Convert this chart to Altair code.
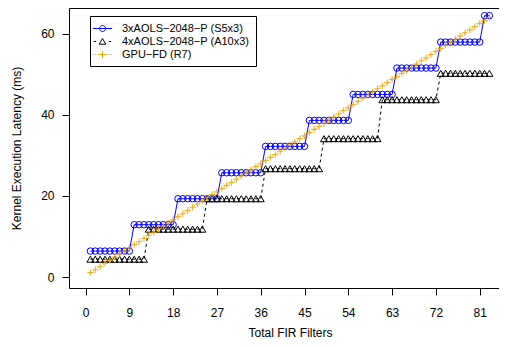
import altair as alt
import pandas as pd

# ---- data ----
filters = list(range(1, 84))

s5x3 = [
    6.4, 6.4, 6.4, 6.4, 6.4, 6.4, 6.4, 6.4, 6.4,
    12.9, 12.9, 12.9, 12.9, 12.9, 12.9, 12.9, 12.9, 12.9,
    19.3, 19.3, 19.3, 19.3, 19.3, 19.3, 19.3, 19.3, 19.3,
    25.7, 25.7, 25.7, 25.7, 25.7, 25.7, 25.7, 25.7, 25.7,
    32.2, 32.2, 32.2, 32.2, 32.2, 32.2, 32.2, 32.2, 32.2,
    38.6, 38.6, 38.6, 38.6, 38.6, 38.6, 38.6, 38.6, 38.6,
    45.0, 45.0, 45.0, 45.0, 45.0, 45.0, 45.0, 45.0, 45.0,
    51.5, 51.5, 51.5, 51.5, 51.5, 51.5, 51.5, 51.5, 51.5,
    57.9, 57.9, 57.9, 57.9, 57.9, 57.9, 57.9, 57.9, 57.9,
    64.4, 64.4,
]

a10x3 = [
    4.4, 4.4, 4.4, 4.4, 4.4, 4.4, 4.4, 4.4, 4.4, 4.4, 4.4, 4.4,
    11.8, 11.8, 11.8, 11.8, 11.8, 11.8, 11.8, 11.8, 11.8, 11.8, 11.8, 11.8,
    19.3, 19.3, 19.3, 19.3, 19.3, 19.3, 19.3, 19.3, 19.3, 19.3, 19.3, 19.3,
    26.7, 26.7, 26.7, 26.7, 26.7, 26.7, 26.7, 26.7, 26.7, 26.7, 26.7, 26.7,
    34.1, 34.1, 34.1, 34.1, 34.1, 34.1, 34.1, 34.1, 34.1, 34.1, 34.1, 34.1,
    43.7, 43.7, 43.7, 43.7, 43.7, 43.7, 43.7, 43.7, 43.7, 43.7, 43.7, 43.7,
    50.2, 50.2, 50.2, 50.2, 50.2, 50.2, 50.2, 50.2, 50.2, 50.2, 50.2,
]

gpu_fd = [
    1.1, 1.8, 2.6, 3.4, 4.1, 4.9, 5.7, 6.4, 7.2, 8.0,
    8.7, 9.5, 10.3, 11.0, 11.8, 12.6, 13.3, 14.1, 14.9, 15.6,
    16.4, 17.2, 18.0, 18.7, 19.5, 20.3, 21.0, 21.8, 22.6, 23.3,
    24.1, 24.9, 25.6, 26.4, 27.2, 27.9, 28.7, 29.5, 30.2, 31.0,
    31.8, 32.5, 33.3, 34.1, 34.8, 35.6, 36.4, 37.1, 37.9, 38.7,
    39.4, 40.2, 41.0, 41.7, 42.5, 43.3, 44.1, 44.8, 45.6, 46.4,
    47.1, 47.9, 48.7, 49.4, 50.2, 51.0, 51.7, 52.5, 53.3, 54.0,
    54.8, 55.6, 56.3, 57.1, 57.9, 58.6, 59.4, 60.2, 60.9, 61.7,
    62.5, 63.2, 64.0,
]

series_names = ["3xAOLS\u22122048\u2212P (S5x3)", "4xAOLS\u22122048\u2212P (A10x3)", "GPU\u2212FD (R7)"]
series_colors = ["#0000FF", "#000000", "#E69F00"]
x_ticks = [0, 9, 18, 27, 36, 45, 54, 63, 72, 81]
y_ticks = [0, 20, 40, 60]

FONT = "Liberation Sans"

rows = []
for name, vals in zip(series_names, [s5x3, a10x3, gpu_fd]):
    for f, v in zip(filters, vals):
        rows.append({"filters": f, "latency": v, "series": name})
df = pd.DataFrame(rows)

xscale = alt.Scale(domain=[-3.4, 84.97], nice=False, zero=False)
yscale = alt.Scale(domain=[-2.7, 66.3], nice=False, zero=False)

x_axis = alt.Axis(
    values=x_ticks, title="Total FIR Filters", grid=False,
    tickSize=7, tickColor="black", domainColor="black", labelColor="black",
    labelFontSize=12, labelFont=FONT, labelPadding=12, labelFlush=False,
    titleFont=FONT, titleFontSize=12, titleFontWeight="normal", titleColor="black",
    titleX=221, titleY=44, titleBaseline="middle",
)
y_axis = alt.Axis(
    values=y_ticks, title="Kernel Execution Latency (ms)", grid=False,
    tickSize=7, tickColor="black", domainColor="black", labelColor="black",
    labelFontSize=12, labelFont=FONT, labelPadding=8, labelFlush=False,
    titleFont=FONT, titleFontSize=12, titleFontWeight="normal", titleColor="black",
    titleX=-53, titleY=140, titleBaseline="middle", titleAngle=-90,
)
top_axis = alt.Axis(orient="top", labels=False, ticks=False, domain=True,
                    domainColor="black", grid=False, title=None)

Y = alt.Y("latency:Q", scale=yscale, axis=y_axis)


def sub(name):
    return alt.Chart(df).transform_filter(alt.datum.series == name)


blue = sub(series_names[0])
black = sub(series_names[1])
orange = sub(series_names[2])

blue_line = blue.mark_line(color="#0000FF", strokeWidth=1).encode(
    x=alt.X("filters:Q", scale=xscale, axis=x_axis), y=Y)
blue_pts = blue.mark_point(shape="circle", size=42, filled=False, color="#0000FF",
                           strokeWidth=1, opacity=1).encode(
    x=alt.X("filters:Q", scale=xscale, axis=None), y=Y)

black_line = black.mark_line(color="black", strokeWidth=1, strokeDash=[3, 3]).encode(
    x=alt.X("filters:Q", scale=xscale, axis=None), y=Y)
black_pts = black.mark_point(shape="triangle-up", size=49, filled=False, color="black",
                             strokeWidth=1, opacity=1).encode(
    x=alt.X("filters:Q", scale=xscale, axis=None), y=Y)

orange_line = orange.mark_line(color="#E69F00", strokeWidth=1, strokeDash=[1, 2]).encode(
    x=alt.X("filters:Q", scale=xscale, axis=None), y=Y)
orange_pts = orange.mark_point(shape="M-1,0L1,0M0,-1L0,1", size=41, filled=False,
                               color="#E69F00", strokeWidth=1.2, opacity=0.75).encode(
    x=alt.X("filters:Q", scale=xscale, axis=top_axis), y=Y)

legend_shapes = [
    "M-1.6,0L1.6,0M-0.5,0A0.5,0.5,0,1,1,0.5,0A0.5,0.5,0,1,1,-0.5,0",
    "M-1.45,0L-1.05,0M1.05,0L1.45,0M-0.55,0.45L0,-0.5L0.55,0.45Z",
    "M-1.6,0L-1.45,0M-1.2,0L-1.05,0M-0.8,0L-0.65,0M0.65,0L0.8,0M1.05,0L1.2,0M1.45,0L1.6,0"
    "M-0.55,0L0.55,0M0,-0.55L0,0.55",
]

legend_layer = alt.Chart(df).mark_point(filled=False, opacity=0).encode(
    x=alt.X("filters:Q", scale=xscale, axis=None),
    y=Y,
    color=alt.Color("series:N", scale=alt.Scale(domain=series_names, range=series_colors),
                    legend=alt.Legend(
                        orient="none", legendX=21, legendY=8, title=None,
                        symbolSize=144, symbolStrokeWidth=1, symbolOpacity=1,
                        labelFont=FONT, labelFontSize=11, labelColor="black",
                        labelOffset=13, padding=6, rowPadding=1,
                        strokeColor="black", fillColor="white", cornerRadius=0,
                    )),
    shape=alt.Shape("series:N", scale=alt.Scale(domain=series_names, range=legend_shapes)),
)

chart = alt.layer(
    blue_line, blue_pts, black_line, black_pts, orange_line, orange_pts, legend_layer
).resolve_axis(x="independent").properties(
    width=430, height=280,
    padding={"left": 61, "top": 0, "right": 0, "bottom": 51},
    autosize=alt.AutoSizeParams(type="none"),
    background="white",
).configure_view(strokeWidth=0)

chart.save("out.html", embed_options={"renderer": "svg", "actions": False})
